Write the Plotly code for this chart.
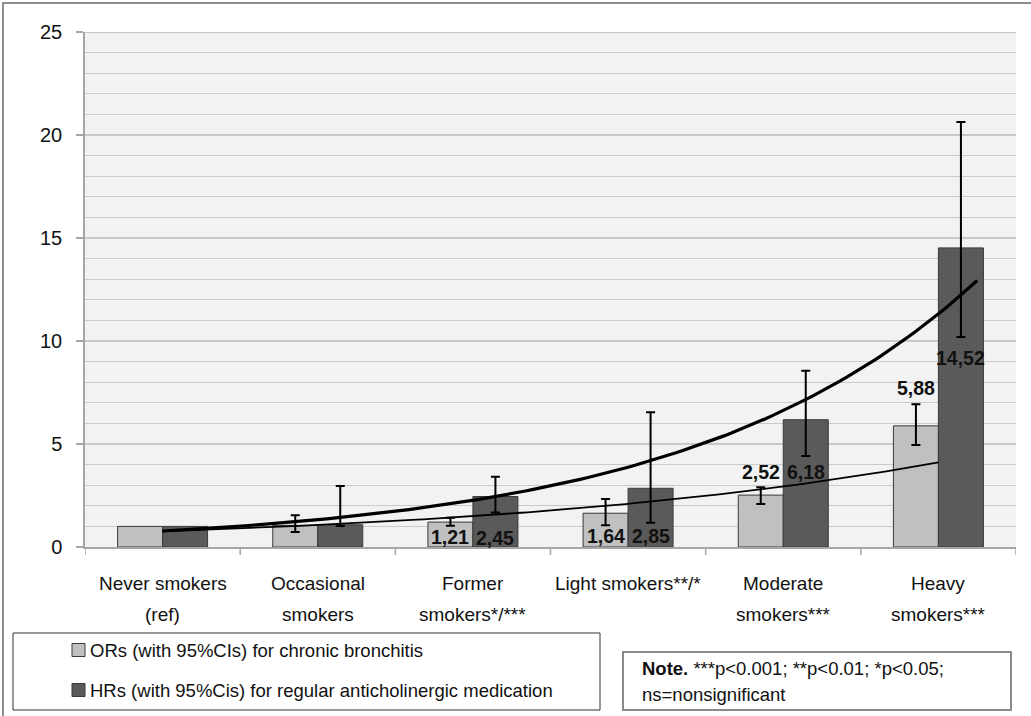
import numpy as np
import plotly.graph_objects as go

# Smoking categories (two-line axis labels)
categories = ["Never smokers", "Occasional", "Former", "Light smokers**/*", "Moderate", "Heavy"]
categories_line2 = ["(ref)", "smokers", "smokers*/***", "", "smokers***", "smokers***"]

# Odds ratios for chronic bronchitis with 95% CIs
or_values = [1.00, 1.05, 1.21, 1.64, 2.52, 5.88]
or_lower = [None, 0.73, 1.03, 1.05, 2.09, 4.95]
or_upper = [None, 1.54, 1.42, 2.33, 2.90, 6.93]

# Hazard ratios for regular anticholinergic medication with 95% CIs
hr_values = [1.00, 1.08, 2.45, 2.85, 6.18, 14.52]
hr_lower = [None, 1.02, 1.67, 1.18, 4.42, 10.19]
hr_upper = [None, 2.96, 3.41, 6.54, 8.56, 20.63]

# Value labels that are printed on the chart (only for the smoking groups)
or_labels = ["", "", "1,21", "1,64", "2,52", "5,88"]
hr_labels = ["", "", "2,45", "2,85", "6,18", "14,52"]

y_ticks = [0, 5, 10, 15, 20, 25]

LIGHT = "#c0c0c0"
DARK = "#5a5a5a"
EDGE = "#3a3a3a"
TEXT = "#111111"
BASE_FONT = "Liberation Sans, Arial, sans-serif"

# plot area geometry in pixels
W, H = 1031, 716
PX0, PX1 = 85, 1016
PY0, PY1 = 32, 547


def px(xp):
    return (xp - PX0) / (PX1 - PX0)


def py(yp):
    return (PY1 - yp) / (PY1 - PY0)


xpos = np.arange(1, len(categories) + 1)
BARGAP = 0.42
half = (1 - BARGAP) / 4  # offset from group centre to each bar centre

fig = go.Figure()

fig.add_trace(go.Bar(
    x=xpos, y=or_values, name="ORs (with 95%CIs) for chronic bronchitis",
    marker=dict(color=LIGHT, line=dict(color=EDGE, width=1)), hoverinfo="skip",
))
fig.add_trace(go.Bar(
    x=xpos, y=hr_values, name="HRs (with 95%Cis) for regular anticholinergic medication",
    marker=dict(color=DARK, line=dict(color=EDGE, width=1)), hoverinfo="skip",
))

# 95% CI whiskers, drawn only where an interval exists (reference group has none)
err_style = dict(type="data", symmetric=False, color="#000000", thickness=2, width=4.5)
for values, lower, upper, dx in ((or_values, or_lower, or_upper, -half),
                                 (hr_values, hr_lower, hr_upper, half)):
    idx = [i for i, lo in enumerate(lower) if lo is not None]
    fig.add_trace(go.Scatter(
        x=[xpos[i] + dx for i in idx], y=[values[i] for i in idx], mode="markers",
        marker=dict(size=0.1, opacity=0),
        error_y=dict(array=[upper[i] - values[i] for i in idx],
                     arrayminus=[values[i] - lower[i] for i in idx], **err_style),
        hoverinfo="skip", showlegend=False,
    ))


# Exponential trend lines fitted to each series (log-linear least squares)
def exp_trend(values, x_end):
    b, ln_a = np.polyfit(xpos, np.log(values), 1)
    xs = np.linspace(1, x_end, 120)
    return xs, np.exp(ln_a) * np.exp(b * xs)


xs_or, ys_or = exp_trend(or_values, 6.0)
xs_hr, ys_hr = exp_trend(hr_values, 6.25)
fig.add_trace(go.Scatter(x=xs_or, y=ys_or, mode="lines",
                         line=dict(color="#000000", width=1.8), hoverinfo="skip", showlegend=False))
fig.add_trace(go.Scatter(x=xs_hr, y=ys_hr, mode="lines",
                         line=dict(color="#000000", width=3.2), hoverinfo="skip", showlegend=False))

annotations = []

# bar value labels
or_label_y = [None, None, 0.5, 0.55, 3.65, 7.72]
hr_label_y = [None, None, 0.45, 0.55, 3.65, 9.17]
for i, (lab_o, lab_h) in enumerate(zip(or_labels, hr_labels)):
    for lab, dx, ly in ((lab_o, -half, or_label_y[i]), (lab_h, half, hr_label_y[i])):
        if lab:
            annotations.append(dict(
                x=xpos[i] + dx, y=ly, xref="x", yref="y", text=f"<b>{lab}</b>",
                showarrow=False, xanchor="center", yanchor="middle",
                font=dict(family=BASE_FONT, size=19.5, color=TEXT),
            ))

# two-line category labels under the axis
for i, (l1, l2) in enumerate(zip(categories, categories_line2)):
    annotations.append(dict(x=xpos[i], y=py(583), xref="x", yref="paper", text=l1,
                            showarrow=False, xanchor="center", yanchor="middle",
                            font=dict(family=BASE_FONT, size=19, color=TEXT)))
    if l2:
        annotations.append(dict(x=xpos[i], y=py(614), xref="x", yref="paper", text=l2,
                                showarrow=False, xanchor="center", yanchor="middle",
                                font=dict(family=BASE_FONT, size=19, color=TEXT)))

# legend box entries
legend_rows = [(LIGHT, "ORs (with 95%CIs) for chronic bronchitis", 650),
               (DARK, "HRs (with 95%Cis) for regular anticholinergic medication", 690)]
shapes = []
for col, label, yc in legend_rows:
    shapes.append(dict(type="rect", xref="paper", yref="paper",
                       x0=px(72), x1=px(85), y0=py(yc - 6.5), y1=py(yc + 6.5),
                       fillcolor=col, line=dict(color=EDGE, width=1)))
    annotations.append(dict(x=px(88), y=py(yc), xref="paper", yref="paper", text=label,
                            showarrow=False, xanchor="left", yanchor="middle",
                            font=dict(family=BASE_FONT, size=18.5, color=TEXT)))

shapes.append(dict(type="rect", xref="paper", yref="paper",
                   x0=px(13), x1=px(600), y0=py(633), y1=py(710),
                   line=dict(color="#333333", width=1), fillcolor="rgba(0,0,0,0)"))

# significance note box
shapes.append(dict(type="rect", xref="paper", yref="paper",
                   x0=px(623), x1=px(1011), y0=py(652), y1=py(710),
                   line=dict(color="#8a8a8a", width=2), fillcolor="rgba(0,0,0,0)"))
annotations.append(dict(x=px(640), y=py(668), xref="paper", yref="paper",
                        text="<b>Note.</b> ***p<0.001; **p<0.01; *p<0.05;",
                        showarrow=False, xanchor="left", yanchor="middle",
                        font=dict(family=BASE_FONT, size=18.5, color=TEXT)))
annotations.append(dict(x=px(640), y=py(694), xref="paper", yref="paper",
                        text="ns=nonsignificant",
                        showarrow=False, xanchor="left", yanchor="middle",
                        font=dict(family=BASE_FONT, size=18.5, color=TEXT)))

# outer chart frame (left and top edges visible)
shapes.append(dict(type="rect", xref="paper", yref="paper",
                   x0=px(3), x1=px(1034), y0=py(3), y1=py(720),
                   line=dict(color="#8c8c8c", width=2), fillcolor="rgba(0,0,0,0)", layer="below"))

# category boundary ticks on the x axis
for b in np.arange(0.5, len(categories) + 1, 1.0):
    shapes.append(dict(type="line", xref="x", yref="paper", x0=b, x1=b,
                       y0=0, y1=py(PY1 + 8), line=dict(color="#a6a6a6", width=1.5)))

# major gridlines every 5 units drawn a bit darker
for t in y_ticks[1:]:
    shapes.append(dict(type="line", xref="paper", yref="y", x0=0, x1=1, y0=t, y1=t,
                       line=dict(color="#9a9a9a", width=1.2), layer="below"))

fig.update_layout(
    width=W, height=H,
    margin=dict(l=PX0, r=W - PX1, t=PY0, b=H - PY1),
    paper_bgcolor="white", plot_bgcolor="#f2f2f2",
    barmode="group", bargap=BARGAP, bargroupgap=0,
    showlegend=False,
    annotations=annotations, shapes=shapes,
    font=dict(family=BASE_FONT, color=TEXT),
)
fig.update_xaxes(range=[0.5, len(categories) + 0.5], showticklabels=False, ticks="",
                 showgrid=False, zeroline=False, showline=True, linecolor="#a6a6a6", linewidth=1.5)
fig.update_yaxes(range=[0, 25], tickvals=y_ticks, ticktext=[str(t) for t in y_ticks],
                 ticks="outside", ticklen=7, tickcolor="#a6a6a6", tickwidth=1.5,
                 ticklabelstandoff=10,
                 tickfont=dict(family=BASE_FONT, size=20, color=TEXT),
                 showgrid=True, gridcolor="#cacaca", gridwidth=1.2,
                 minor=dict(dtick=1, showgrid=True, gridcolor="#cacaca", gridwidth=1.2),
                 zeroline=False, showline=True, linecolor="#a6a6a6", linewidth=1.5)

fig.write_html("out.html")
